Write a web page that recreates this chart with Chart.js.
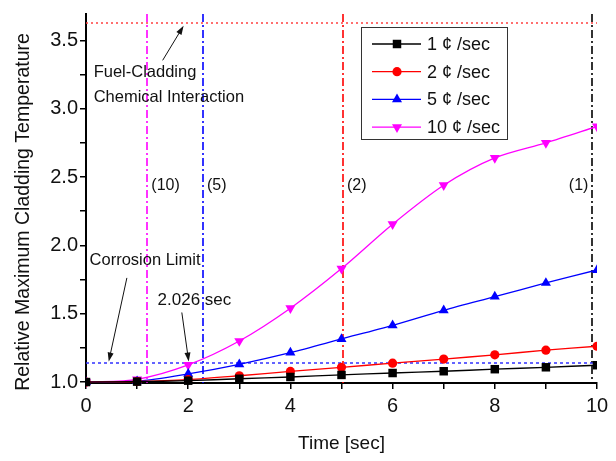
<!DOCTYPE html>
<html>
<head>
<meta charset="utf-8">
<script src="https://cdn.jsdelivr.net/npm/chart.js@4"></script>
<style>
  body { margin: 0; background: #fff; }
</style>
</head>
<body>
<canvas id="chart" width="616" height="461"></canvas>
<script>
// values
const timeSec = [0, 1, 2, 3, 4, 5, 6, 7, 8, 9, 10];
const rate1 = [1.000, 1.003, 1.010, 1.024, 1.037, 1.052, 1.066, 1.079, 1.094, 1.108, 1.123];
const rate2 = [1.000, 1.004, 1.018, 1.046, 1.078, 1.108, 1.138, 1.168, 1.199, 1.233, 1.262];
const rate5 = [1.000, 1.006, 1.060, 1.130, 1.215, 1.315, 1.415, 1.525, 1.625, 1.725, 1.820];
const rate10 = [1.000, 1.020, 1.125, 1.300, 1.540, 1.830, 2.155, 2.440, 2.640, 2.750, 2.870];
const seriesLabels = ['1 \u00a2 /sec', '2 \u00a2 /sec', '5 \u00a2 /sec', '10 \u00a2 /sec'];

const xTicks = [0, 1, 2, 3, 4, 5, 6, 7, 8, 9, 10];
const yTicks = [1.0, 1.25, 1.5, 1.75, 2.0, 2.25, 2.5, 2.75, 3.0, 3.25, 3.5];

// time at which each rate crosses the corrosion limit
const limitTimes = [1.2, 2.29, 5.03, 9.91];
const limitLabels = ['(10)', '(5)', '(2)', '(1)'];
const fuelCladdingLimit = 3.628;
const corrosionLimit = 1.142;

const FONT = "'Liberation Sans', Arial, sans-serif";
const colors = ['#000000', '#ff0000', '#0000ff', '#ff00ff'];
const styles = [
  { pointStyle: 'rect', radius: 6, rotation: 0 },
  { pointStyle: 'circle', radius: 4.6, rotation: 0 },
  { pointStyle: 'triangle', radius: 5.8, rotation: 0 },
  { pointStyle: 'triangle', radius: 5.8, rotation: 180 }
];

function series(i, values) {
  return {
    label: seriesLabels[i],
    data: timeSec.map((t, k) => ({ x: t, y: values[k] })),
    borderColor: colors[i],
    backgroundColor: colors[i],
    borderWidth: 1.3,
    pointStyle: styles[i].pointStyle,
    pointRadius: styles[i].radius,
    pointRotation: styles[i].rotation,
    pointBorderWidth: 0,
    tension: 0.3,
    clip: { left: 0, right: 0, top: 6, bottom: 6 }
  };
}

function arrow(ctx, x1, y1, x2, y2) {
  const ang = Math.atan2(y2 - y1, x2 - x1);
  ctx.beginPath();
  ctx.moveTo(x1, y1);
  ctx.lineTo(x2 - 6 * Math.cos(ang), y2 - 6 * Math.sin(ang));
  ctx.stroke();
  ctx.beginPath();
  ctx.moveTo(x2, y2);
  ctx.lineTo(x2 - 9 * Math.cos(ang) + 3 * Math.sin(ang), y2 - 9 * Math.sin(ang) - 3 * Math.cos(ang));
  ctx.lineTo(x2 - 9 * Math.cos(ang) - 3 * Math.sin(ang), y2 - 9 * Math.sin(ang) + 3 * Math.cos(ang));
  ctx.closePath();
  ctx.fill();
}

const overlay = {
  id: 'overlay',
  beforeDatasetsDraw(chart) {
    const { ctx, chartArea: a, scales: { x, y } } = chart;
    ctx.save();
    // vertical dash-dot lines, one per rate
    const lineColors = ['#ff00ff', '#0000ff', '#ff0000', '#000000'];
    limitTimes.forEach((t, i) => {
      const px = Math.round(x.getPixelForValue(t));
      ctx.strokeStyle = lineColors[i];
      ctx.lineWidth = 1.6;
      ctx.setLineDash([8, 3, 2, 3]);
      ctx.beginPath();
      ctx.moveTo(px, a.top);
      ctx.lineTo(px, a.bottom);
      ctx.stroke();
    });
    // horizontal limits
    ctx.lineWidth = 1.5;
    ctx.strokeStyle = '#ff4040';
    ctx.setLineDash([2, 3]);
    let py = Math.round(y.getPixelForValue(fuelCladdingLimit));
    ctx.beginPath(); ctx.moveTo(a.left, py); ctx.lineTo(a.right, py); ctx.stroke();
    ctx.strokeStyle = '#3030ff';
    ctx.setLineDash([3, 3]);
    py = Math.round(y.getPixelForValue(corrosionLimit));
    ctx.beginPath(); ctx.moveTo(a.left, py); ctx.lineTo(a.right, py); ctx.stroke();
    ctx.restore();
  },
  afterDraw(chart) {
    const { ctx, chartArea: a, scales: { x, y } } = chart;
    const X = v => x.getPixelForValue(v);
    const Y = v => y.getPixelForValue(v);
    ctx.save();
    ctx.fillStyle = '#111';
    ctx.strokeStyle = '#111';
    ctx.lineWidth = 1;
    ctx.textBaseline = 'middle';

    // annotations
    ctx.font = '16.5px ' + FONT;
    ctx.textAlign = 'left';
    ctx.fillText('Fuel-Cladding', X(0.15), Y(3.267));
    ctx.fillText('Chemical Interaction', X(0.15), Y(3.086));
    arrow(ctx, X(1.50), Y(3.354), X(1.91), Y(3.607));
    ctx.fillText('Corrosion Limit', X(0.07), Y(1.892));
    arrow(ctx, X(0.80), Y(1.762), X(0.445), Y(1.150));
    ctx.font = '17px ' + FONT;
    ctx.fillText('2.026 sec', X(1.40), Y(1.596));
    arrow(ctx, X(1.875), Y(1.509), X(2.01), Y(1.150));

    ctx.font = '16px ' + FONT;
    limitLabels.forEach((lab, i) => {
      const px = X(limitTimes[i]);
      if (i === 3) {
        ctx.textAlign = 'right';
        ctx.fillText(lab, px - 4, Y(2.435));
      } else {
        ctx.textAlign = 'left';
        ctx.fillText(lab, px + 4, Y(2.435));
      }
    });

    // legend box
    const lx = 361, ly = 27, lw = 146, lh = 112;
    ctx.setLineDash([]);
    ctx.strokeStyle = '#333';
    ctx.fillStyle = '#fff';
    ctx.fillRect(lx, ly, lw, lh);
    ctx.strokeRect(lx + 0.5, ly + 0.5, lw, lh);
    ctx.font = '18px ' + FONT;
    ctx.textAlign = 'left';
    chart.data.datasets.forEach((ds, i) => {
      const cy = 44 + i * 27.7;
      ctx.strokeStyle = ds.borderColor;
      ctx.lineWidth = 1.3;
      ctx.beginPath();
      ctx.moveTo(372, cy);
      ctx.lineTo(421, cy);
      ctx.stroke();
      ctx.fillStyle = ds.backgroundColor;
      Chart.helpers.drawPoint(ctx, {
        pointStyle: ds.pointStyle, radius: ds.pointRadius,
        rotation: ds.pointRotation, borderWidth: 0
      }, 397, cy);
      ctx.fillStyle = '#111';
      ctx.fillText(ds.label, 427, cy + 1);
    });

    // axis titles
    ctx.fillStyle = '#111';
    ctx.font = '19.5px ' + FONT;
    ctx.textAlign = 'center';
    ctx.save();
    ctx.translate(24, 212);
    ctx.rotate(-Math.PI / 2);
    ctx.fillText('Relative Maximum Cladding Temperature', 0, 0);
    ctx.restore();
    ctx.font = '19px ' + FONT;
    ctx.fillText('Time [sec]', (a.left + a.right) / 2, 444);
    ctx.restore();
  }
};

const config = {
  type: 'line',
  data: {
    datasets: [series(0, rate1), series(1, rate2), series(2, rate5), series(3, rate10)]
  },
  options: {
    responsive: false,
    animation: false,
    layout: { padding: { top: 10, right: 19, left: 0, bottom: 0 } },
    plugins: {
      legend: { display: false },
      title: { display: false },
      tooltip: { enabled: false }
    },
    scales: {
      x: {
        type: 'linear',
        min: 0,
        max: 10,
        afterBuildTicks: s => { s.ticks = xTicks.map(v => ({ value: v })); },
        afterFit: s => { s.height = 78; },
        ticks: {
          color: '#111',
          font: { family: FONT, size: 20 },
          padding: 5,
          maxRotation: 0,
          callback: v => (v % 2 === 0 ? String(v) : '')
        },
        grid: { drawOnChartArea: false, drawTicks: true, tickLength: 6, color: '#000', lineWidth: 1.5 },
        border: { display: true, color: '#000', width: 2 }
      },
      y: {
        type: 'linear',
        min: 0.993,
        max: 3.693,
        afterBuildTicks: s => { s.ticks = yTicks.map(v => ({ value: v })); },
        afterFit: s => { s.width = 86; },
        ticks: {
          color: '#111',
          font: { family: FONT, size: 20 },
          padding: 2,
          callback: v => (Math.abs(v * 2 - Math.round(v * 2)) < 1e-6 ? v.toFixed(1) : '')
        },
        grid: { drawOnChartArea: false, drawTicks: true, tickLength: 6, color: '#000', lineWidth: 1.5 },
        border: { display: true, color: '#000', width: 2 }
      }
    }
  },
  plugins: [overlay]
};

const ctx = document.getElementById('chart').getContext('2d');
const myChart = new Chart(ctx, config);
</script>
</body>
</html>
